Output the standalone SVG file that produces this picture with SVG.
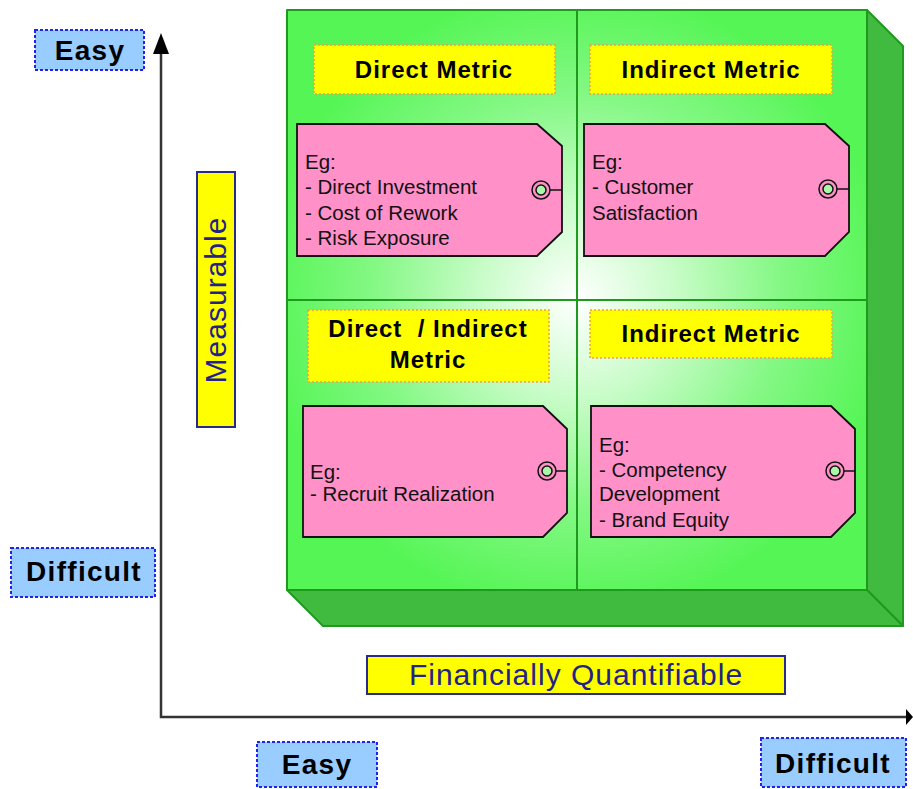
<svg xmlns="http://www.w3.org/2000/svg" width="913" height="789" viewBox="0 0 913 789">
  <style>
    .axis { stroke: #333; stroke-width: 2.5; fill: none; }
    .lvl { fill: #99ccff; stroke: #2222ee; stroke-width: 2; stroke-dasharray: 3 2; }
    .lvl-t { font-family: "Liberation Sans", Arial, sans-serif; font-weight: bold; font-size: 28px; letter-spacing: 1.3px; fill: #000; text-anchor: middle; }
    .hdr { fill: #ffff00; stroke: #f0a040; stroke-width: 1.5; stroke-dasharray: 2 2; }
    .hdr-t { font-family: "Liberation Sans", Arial, sans-serif; font-weight: bold; font-size: 24px; letter-spacing: 1px; fill: #000; text-anchor: middle; }
    .tag { fill: #ff90c8; stroke: #111; stroke-width: 1.8; }
    .tag-t { font-family: "Liberation Sans", Arial, sans-serif; font-size: 20.5px; fill: #111; }
    .ring { fill: none; stroke: #111; stroke-width: 1.5; }
    .eye { fill: #a8f8a8; stroke: #111; stroke-width: 1.5; }
    .ttl { fill: #ffff00; stroke: #2a2a8a; stroke-width: 2; }
    .ttl-t { font-family: "Liberation Sans", Arial, sans-serif; font-size: 30px; letter-spacing: 1px; fill: #22228a; text-anchor: middle; }
    .face { stroke: #1f9a1f; stroke-width: 2; stroke-linejoin: round; }
  </style>
  <defs>
    <radialGradient id="glow" gradientUnits="userSpaceOnUse" cx="577" cy="300" r="330">
      <stop offset="0" stop-color="#ffffff"/>
      <stop offset="0.3" stop-color="#c8fcc8"/>
      <stop offset="0.62" stop-color="#84f884"/>
      <stop offset="0.95" stop-color="#55f555"/>
    </radialGradient>
  </defs>

  <!-- axes -->
  <g id="connectors">
    <path class="axis" d="M161 52 L161 717 L907 717"/>
    <path d="M161 33 L169 54 L153 54 Z" fill="#000"/>
    <path d="M913 717 L906 709 L906 725 Z" fill="#000"/>
  </g>

  <!-- 3D board -->
  <g id="board">
    <polygon class="face" fill="#40bb40" points="867,10 903,46 903,626 867,590"/>
    <polygon class="face" fill="#40bb40" points="287,590 867,590 903,626 323,626"/>
    <rect class="face" x="287" y="10" width="580" height="580" fill="url(#glow)"/>
    <line x1="577" y1="10" x2="577" y2="590" stroke="#1f9a1f" stroke-width="2"/>
    <line x1="287" y1="300" x2="867" y2="300" stroke="#1f9a1f" stroke-width="2"/>
  </g>

  <!-- axis level labels -->
  <g id="y-easy">
    <rect class="lvl" x="35" y="30" width="109" height="40"/>
    <text class="lvl-t" x="90" y="60">Easy</text>
  </g>
  <g id="y-difficult">
    <rect class="lvl" x="11" y="548" width="144" height="49"/>
    <text class="lvl-t" x="84" y="581">Difficult</text>
  </g>
  <g id="x-easy">
    <rect class="lvl" x="257" y="742" width="120" height="45"/>
    <text class="lvl-t" x="317" y="774">Easy</text>
  </g>
  <g id="x-difficult">
    <rect class="lvl" x="761" y="738" width="145" height="49"/>
    <text class="lvl-t" x="833" y="773">Difficult</text>
  </g>

  <!-- axis titles -->
  <g id="measurable">
    <rect class="ttl" x="197" y="172" width="38" height="255"/>
    <text class="ttl-t" transform="translate(226 300) rotate(-90)" x="0" y="0">Measurable</text>
  </g>
  <g id="financially">
    <rect class="ttl" x="367" y="656" width="418" height="38"/>
    <text class="ttl-t" x="576" y="685">Financially Quantifiable</text>
  </g>

  <!-- top-left quadrant -->
  <g id="q1-header">
    <rect class="hdr" x="314" y="45" width="241" height="49"/>
    <text class="hdr-t" x="434" y="78">Direct Metric</text>
  </g>
  <g id="q1-tag">
    <polygon class="tag" points="297,124 537,124 562,146 562,232 537,256 297,256"/>
    <line x1="550" y1="190" x2="562" y2="190" stroke="#111" stroke-width="1.5"/>
    <circle class="ring" cx="541" cy="190" r="9"/>
    <circle class="eye" cx="541" cy="190" r="5"/>
    <text class="tag-t">
      <tspan x="305" y="169">Eg:</tspan>
      <tspan x="305" y="194">- Direct Investment</tspan>
      <tspan x="305" y="220">- Cost of Rework</tspan>
      <tspan x="305" y="245">- Risk Exposure</tspan>
    </text>
  </g>

  <!-- top-right quadrant -->
  <g id="q2-header">
    <rect class="hdr" x="590" y="45" width="242" height="49"/>
    <text class="hdr-t" x="711" y="78">Indirect Metric</text>
  </g>
  <g id="q2-tag">
    <polygon class="tag" points="584,124 825,124 849,146 849,232 825,256 584,256"/>
    <line x1="837" y1="189" x2="849" y2="189" stroke="#111" stroke-width="1.5"/>
    <circle class="ring" cx="828" cy="189" r="9"/>
    <circle class="eye" cx="828" cy="189" r="5"/>
    <text class="tag-t">
      <tspan x="592" y="169">Eg:</tspan>
      <tspan x="592" y="194">- Customer</tspan>
      <tspan x="592" y="220">Satisfaction</tspan>
    </text>
  </g>

  <!-- bottom-left quadrant -->
  <g id="q3-header">
    <rect class="hdr" x="308" y="310" width="241" height="72"/>
    <text class="hdr-t" x="428" y="337" xml:space="preserve">Direct  / Indirect</text>
    <text class="hdr-t" x="428" y="368">Metric</text>
  </g>
  <g id="q3-tag">
    <polygon class="tag" points="303,406 543,406 567,429 567,513 543,537 303,537"/>
    <line x1="556" y1="471" x2="567" y2="471" stroke="#111" stroke-width="1.5"/>
    <circle class="ring" cx="547" cy="471" r="9"/>
    <circle class="eye" cx="547" cy="471" r="5"/>
    <text class="tag-t">
      <tspan x="310" y="479">Eg:</tspan>
      <tspan x="310" y="501">- Recruit Realization</tspan>
    </text>
  </g>

  <!-- bottom-right quadrant -->
  <g id="q4-header">
    <rect class="hdr" x="590" y="310" width="242" height="48"/>
    <text class="hdr-t" x="711" y="342">Indirect Metric</text>
  </g>
  <g id="q4-tag">
    <polygon class="tag" points="591,406 831,406 855,429 855,513 831,537 591,537"/>
    <line x1="844" y1="471" x2="855" y2="471" stroke="#111" stroke-width="1.5"/>
    <circle class="ring" cx="835" cy="471" r="9"/>
    <circle class="eye" cx="835" cy="471" r="5"/>
    <text class="tag-t">
      <tspan x="599" y="452">Eg:</tspan>
      <tspan x="599" y="477">- Competency</tspan>
      <tspan x="599" y="501">Development</tspan>
      <tspan x="599" y="527">- Brand Equity</tspan>
    </text>
  </g>
</svg>
